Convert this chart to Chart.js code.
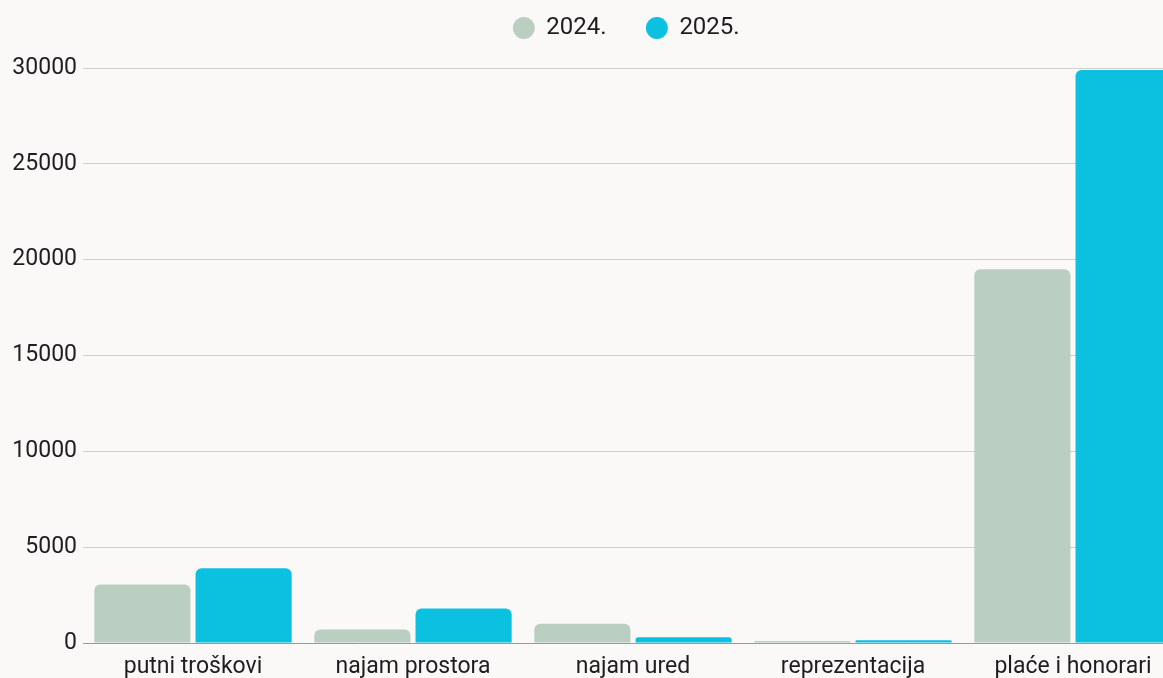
<!DOCTYPE html>
<html>
<head>
<meta charset="utf-8">
<script src="https://cdn.jsdelivr.net/npm/chart.js@4.4.0/dist/chart.umd.min.js"></script>
<style>
  html, body { margin: 0; padding: 0; background: #fbf9f8; overflow: hidden; }
  #wrap { width: 1185px; height: 678px; }
</style>
</head>
<body>
<div id="wrap"><canvas id="expenses"></canvas></div>
<script>
// categories and yearly values
var categories = ['putni troškovi', 'najam prostora', 'najam ured', 'reprezentacija', 'plaće i honorari'];
var values2024 = [3050, 700, 1000, 100, 19500];
var values2025 = [3900, 1800, 300, 150, 29900];
var seriesLabels = ['2024.', '2025.'];

Chart.defaults.font.family = 'Roboto, "Noto Sans", sans-serif';
Chart.defaults.color = '#1e1e1e';

// extra room under the legend, and legend nudged right (centred over plot area)
var legendTweak = {
    id: 'legendTweak',
    beforeInit: function(chart) {
        var legend = chart.legend;
        var origFit = legend.fit;
        var origDraw = legend.draw;
        legend.fit = function() {
            origFit.bind(legend)();
            this.height += 18;
        };
        legend.draw = function() {
            var c = chart.ctx;
            c.save();
            c.translate(35, 0);
            origDraw.bind(legend)();
            c.restore();
        };
    }
};

var ctx = document.getElementById('expenses');
var barChart = new Chart(ctx, {
    type: 'bar',
    data: {
        labels: categories,
        datasets: [
            {
                label: seriesLabels[0],
                data: values2024,
                backgroundColor: '#bacec2',
                borderRadius: 6,
                barPercentage: 0.95,
                categoryPercentage: 0.92
            },
            {
                label: seriesLabels[1],
                data: values2025,
                backgroundColor: '#0cc0df',
                borderRadius: 6,
                barPercentage: 0.95,
                categoryPercentage: 0.92
            }
        ]
    },
    plugins: [legendTweak],
    options: {
        responsive: true,
        maintainAspectRatio: false,
        animation: false,
        layout: {
            padding: { top: 6, right: 2, left: 0, bottom: 0 }
        },
        plugins: {
            legend: {
                position: 'top',
                labels: {
                    usePointStyle: true,
                    pointStyle: 'circle',
                    boxWidth: 21,
                    boxHeight: 15.5,
                    padding: 10,
                    font: { size: 24 },
                    color: '#1e1e1e',
                    generateLabels: function(chart) {
                        var items = Chart.defaults.plugins.legend.labels.generateLabels(chart);
                        // widen spacing after all but the last item
                        for (var i = 0; i < items.length - 1; i++) {
                            items[i].text = items[i].text + '     ';
                        }
                        return items;
                    }
                }
            },
            tooltip: { enabled: false }
        },
        scales: {
            x: {
                grid: { display: false, drawTicks: false },
                border: { color: '#999999' },
                ticks: { font: { size: 23 }, padding: 10, color: '#1e1e1e' },
                afterFit: function(scale) { scale.height = 35; }
            },
            y: {
                min: 0,
                max: 30000,
                ticks: {
                    stepSize: 5000,
                    font: { size: 23 },
                    padding: 6,
                    color: '#1e1e1e',
                    callback: function(value) { return String(value); }
                },
                grid: { color: '#cfcfcf', drawTicks: false },
                border: { display: false },
                afterFit: function(scale) { scale.width = 83; }
            }
        }
    }
});
</script>
</body>
</html>
